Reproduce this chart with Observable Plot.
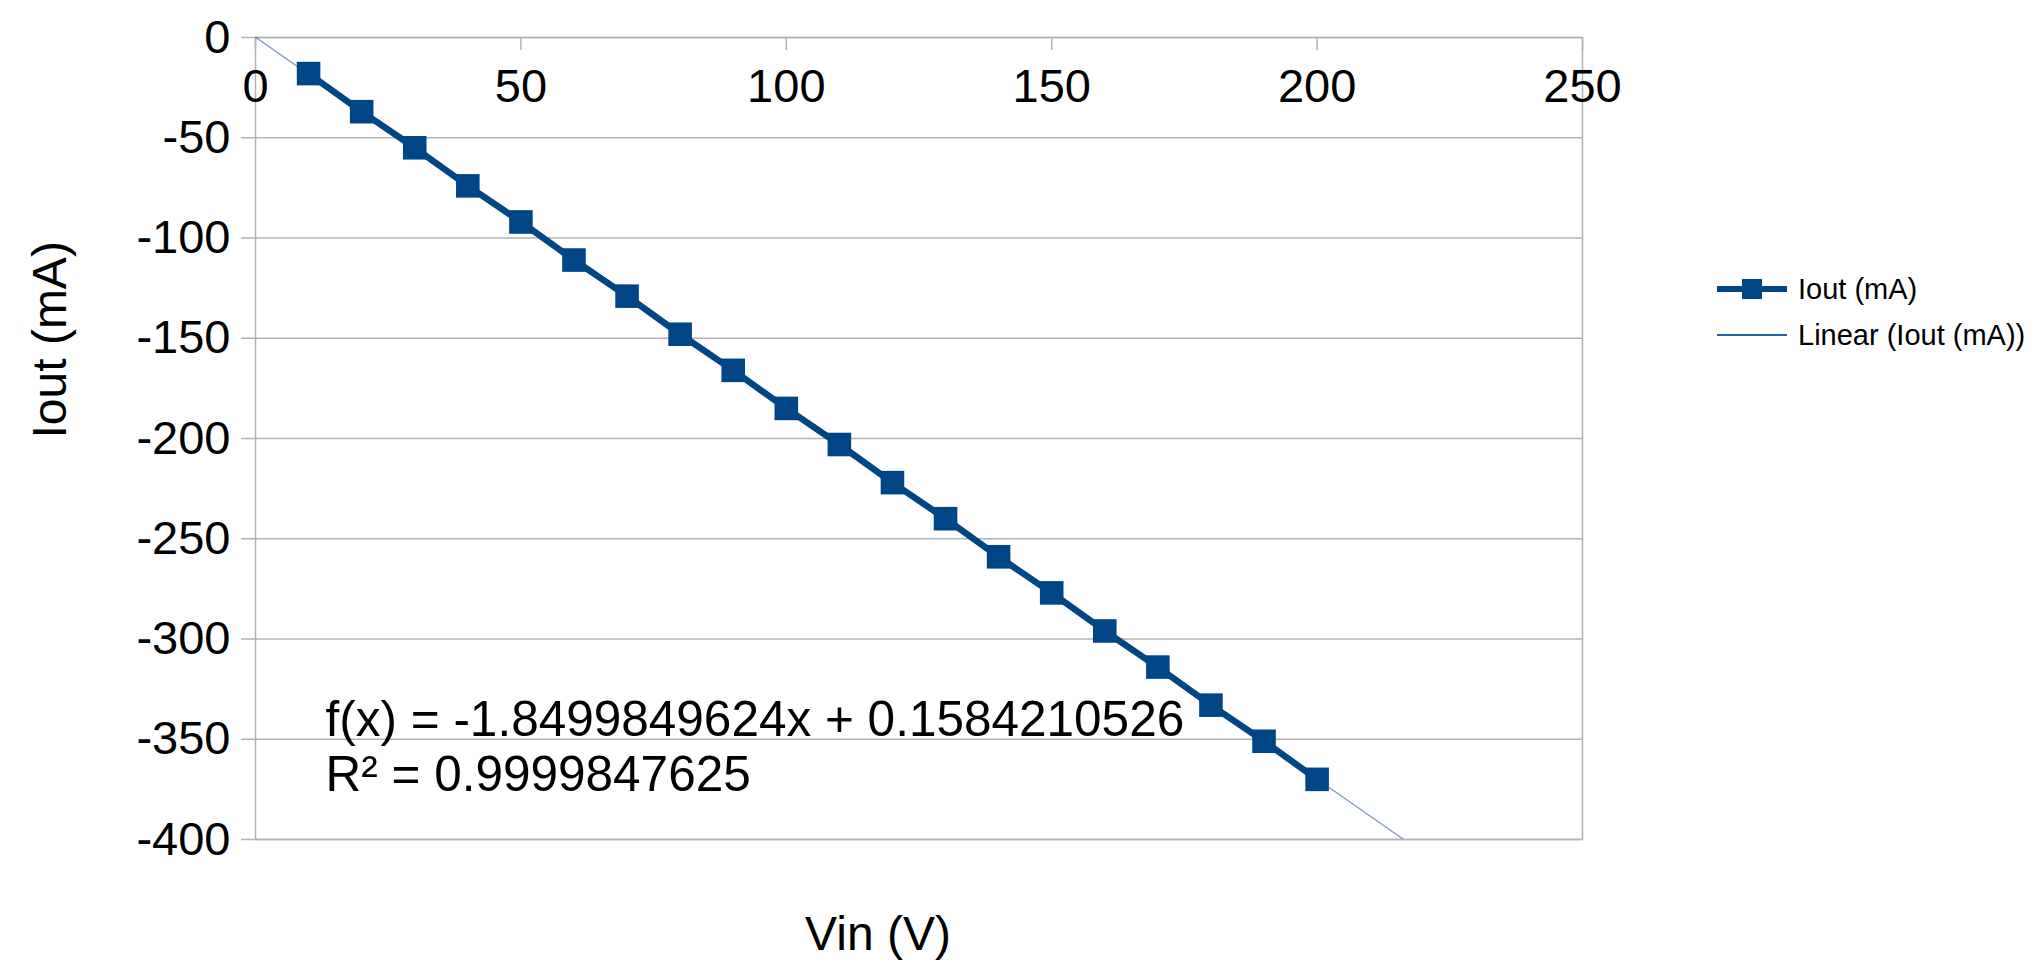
<!DOCTYPE html>
<html>
<head>
<meta charset="utf-8">
<script src="https://cdn.jsdelivr.net/npm/d3@7"></script>
<script src="https://cdn.jsdelivr.net/npm/@observablehq/plot@0.6"></script>
<style>
  html, body { margin: 0; padding: 0; background: #fff; }
  #wrap { position: relative; width: 2037px; height: 966px; font-family: "Liberation Sans", Arial, sans-serif; }
  #legend { position: absolute; left: 1717px; top: 266px; font-size: 29px; color: #000; }
  .row { display: flex; align-items: center; height: 46px; }
  .row svg { margin-right: 11px; }
</style>
</head>
<body>
<div id="wrap"></div>
<script>
// Data
const vin = [10, 20, 30, 40, 50, 60, 70, 80, 90, 100, 110, 120, 130, 140, 150, 160, 170, 180, 190, 200];
const iout = [-18, -37, -55, -74, -92, -111, -129, -148, -166, -185, -203, -222, -240, -259, -277, -296, -314, -333, -351, -370];
const xTicks = [0, 50, 100, 150, 200, 250];
const yTicks = [0, -50, -100, -150, -200, -250, -300, -350, -400];
const slope = -1.8499849624;
const intercept = 0.1584210526;
const eqLines = ["f(x) = -1.8499849624x + 0.1584210526", "R² = 0.9999847625"];
const seriesName = "Iout (mA)";
const trendName = "Linear (Iout (mA))";
const xTitle = "Vin (V)";
const yTitle = "Iout (mA)";

const data = vin.map((v, i) => ({vin: v, iout: iout[i]}));
const trend = [xTicks[0], xTicks[xTicks.length - 1]].map(x => ({vin: x, iout: slope * x + intercept}));

const blue = "#004586";
const grid = "#b3b3b3";

const chart = Plot.plot({
  width: 2037,
  height: 966,
  marginLeft: 255,
  marginRight: 455,
  marginTop: 37,
  marginBottom: 127,
  style: {fontFamily: "Liberation Sans, Arial, sans-serif", background: "#fff", color: "#000"},
  x: {domain: [0, 250], label: null},
  y: {domain: [-400, 0], label: null},
  marks: [
    Plot.gridY(yTicks, {stroke: grid, strokeOpacity: 1, strokeWidth: 1.5}),
    Plot.frame({stroke: grid, strokeWidth: 1.5}),
    Plot.axisY(yTicks, {anchor: "left", tickSize: 14, tickPadding: 11, fontSize: 47, stroke: grid, strokeWidth: 1.5, tickFormat: d => String(d), label: null}),
    Plot.axisX(xTicks, {anchor: "bottom", frameAnchor: "top", tickSize: 13, tickFormat: () => "", stroke: grid, strokeWidth: 1.5, label: null}),
    Plot.axisX(xTicks, {anchor: "top", tickSize: 0, tickPadding: 0, dy: 64, fontSize: 47, tickFormat: d => String(d), label: null}),
    Plot.line(trend, {x: "vin", y: "iout", stroke: blue, strokeWidth: 1.2, strokeOpacity: 0.55, clip: true}),
    Plot.line(data, {x: "vin", y: "iout", stroke: blue, strokeWidth: 6.5}),
    Plot.dot(data, {x: "vin", y: "iout", symbol: "square", r: 13.3, fill: blue, stroke: null}),
    Plot.text([eqLines.join("\n")], {frameAnchor: "bottom-left", textAnchor: "start", lineAnchor: "bottom", dx: 70, dy: -49, fontSize: 49.5, lineHeight: 1.1, fill: "#000"}),
    Plot.text([xTitle], {frameAnchor: "bottom", dx: -41, dy: 110, fontSize: 48, fill: "#000"}),
    Plot.text([yTitle], {frameAnchor: "left", rotate: -90, dx: -205, fontSize: 48, fill: "#000"})
  ]
});

const wrap = document.getElementById("wrap");
wrap.appendChild(chart);

const legend = document.createElement("div");
legend.id = "legend";
legend.innerHTML = `
  <div class="row"><svg width="70" height="24"><line x1="0" y1="12" x2="70" y2="12" stroke="${blue}" stroke-width="6"/><rect x="25" y="2" width="20" height="20" fill="${blue}"/></svg><span>${seriesName}</span></div>
  <div class="row"><svg width="70" height="24"><line x1="0" y1="12" x2="70" y2="12" stroke="${blue}" stroke-width="2" stroke-opacity="0.85"/></svg><span>${trendName}</span></div>`;
wrap.appendChild(legend);
</script>
</body>
</html>
